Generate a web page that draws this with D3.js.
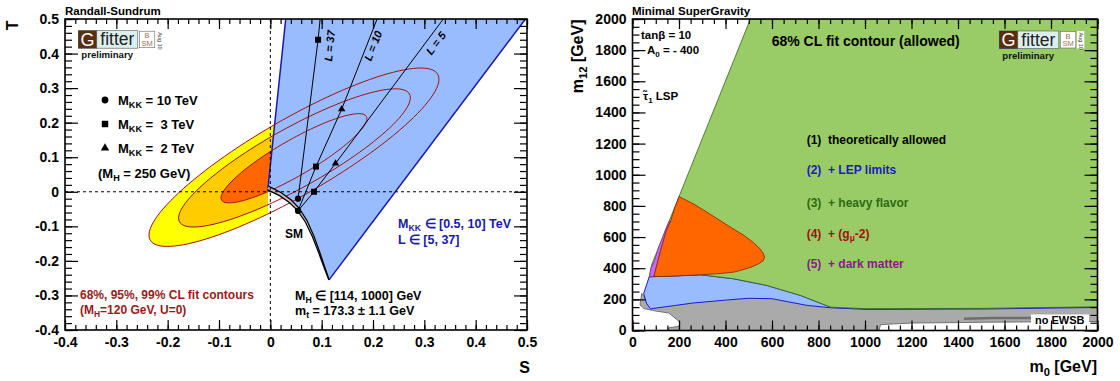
<!DOCTYPE html>
<html>
<head>
<meta charset="utf-8">
<script src="https://cdn.jsdelivr.net/npm/d3@7"></script>
<style>
  body { margin: 0; background: #fff; }
  svg text { font-family: "Liberation Sans", Arial, Helvetica, sans-serif; font-weight: bold; }
</style>
</head>
<body>
<svg id="chart" width="1120" height="381"></svg>
<script>
// ---------- left panel data (S,T plane, Randall-Sundrum) ----------
const stTicks = [-0.4, -0.3, -0.2, -0.1, 0, 0.1, 0.2, 0.3, 0.4, 0.5];
const stTickLabels = ["-0.4", "-0.3", "-0.2", "-0.1", "0", "0.1", "0.2", "0.3", "0.4", "0.5"];

// fit contours (99%, 95%, 68%): centre + two conjugate semi-axes
const contourLevels = ["99%", "95%", "68%"];
const contourFills = ["#ffff00", "#ffcc00", "#ff6600"];
const ellipseS0 = [0.046, 0.047, 0.046];
const ellipseT0 = [0.100, 0.098, 0.097];
const ellipseMajS = [0.280, 0.224, 0.141];
const ellipseMajT = [0.240, 0.185, 0.121];
const ellipseMinS = [0.037, 0.028, 0.0175];
const ellipseMinT = [-0.095, -0.076, -0.045];

// SM band (M_H from 114 to 1000 GeV)
const smS = [-0.0046, 0.0188, 0.0383, 0.0539, 0.0695, 0.0831, 0.0948, 0.1045, 0.1143];
const smT = [0.011, -0.0064, -0.0267, -0.0499, -0.0846, -0.128, -0.174, -0.215, -0.255];
// RS region top corners (at T = 0.5)
const rsTopS = [0.030, 0.497];

// lines of constant L
const lValues = [37, 10, 5];
const lLineS = [[0.054, 0.093, 0.097], [0.054, 0.089, 0.139, 0.208], [0.054, 0.085, 0.127, 0.337]];
const lLineT = [[-0.020, 0.44, 0.5], [-0.055, 0.073, 0.239, 0.5], [-0.055, 0.0, 0.082, 0.5]];
const lLabelS = [0.120, 0.196, 0.314];
const lLabelT = [0.376, 0.376, 0.394];

// M_KK markers along each line (10, 3, 2 TeV)
const mkkValues = [10, 3, 2];
const markerS = [[0.054, 0.093], [0.054, 0.089, 0.139], [0.054, 0.085, 0.127]];
const markerT = [[-0.020, 0.44], [-0.055, 0.073, 0.239], [-0.055, 0.0, 0.082]];

// ---------- right panel data (mSUGRA m0, m12) ----------
const mTicks = [0, 200, 400, 600, 800, 1000, 1200, 1400, 1600, 1800, 2000];
const mTickLabels = ["0", "200", "400", "600", "800", "1000", "1200", "1400", "1600", "1800", "2000"];

const lspEdgeM0 = [72, 82, 200, 507];
const lspEdgeM12 = [345, 420, 860, 2000];
const lepEdgeM0 = [72, 200, 292, 436, 579, 723, 852, 1000, 1500, 2000];
const lepEdgeM12 = [345, 352, 358, 332, 289, 225, 150, 140, 142, 152];
const lepLowM0 = [2000, 1500, 1000, 852, 751, 601, 500, 400, 257, 185, 77, 60, 48];
const lepLowM12 = [148, 138, 136, 146, 161, 204, 207, 195, 176, 161, 139, 175, 238];
const noEwsbM0 = [2000, 852, 600, 400, 185, 60, 40, 32, 50, 100, 156, 192, 206, 199, 156, 150, 1060, 1067, 1210, 1460, 1700, 2000];
const noEwsbM12 = [160, 160, 215, 205, 170, 200, 238, 165, 140, 125, 112, 69, 47, 27, 17, 0, 0, 38, 48, 52, 55, 58];
const streakM0 = [1425, 1550, 1720];
const streakM12 = [76, 80, 80];
const gm2M0 = [92, 108, 125, 145, 165, 180, 200, 260, 320, 364, 420, 479, 520, 548, 563, 568, 562, 545, 508, 470, 436, 380, 292, 200, 149];
const gm2M12 = [347, 440, 536, 640, 707, 780, 860, 815, 760, 718, 665, 611, 565, 525, 495, 470, 448, 430, 405, 388, 375, 366, 358, 351, 348];
const dmM0 = [72, 92, 108, 125, 145, 163, 158, 140, 113, 95, 80];
const dmM12 = [345, 347, 440, 536, 640, 700, 704, 640, 536, 450, 400];

const stepNames = ["theoretically allowed", "+ LEP limits", "+ heavy flavor", "+ (g", "+ dark matter"];
const stepColors = ["#000000", "#1a1acc", "#2d6a12", "#a01010", "#8a1a8a"];

const svg = d3.select("#chart");
const defs = svg.append("defs");

// rich text with subscripts: parts starting with "_" are subscripts
function richText(g, x, y, parts, size, fill, anchor) {
  const t = g.append("text").attr("x", x).attr("y", y)
    .attr("fill", fill || "#000").attr("text-anchor", anchor || "start")
    .style("font-size", size + "px");
  let shift = 0;
  parts.forEach(p => {
    const sub = p.startsWith("_");
    const target = sub ? size * 0.25 : 0;
    const sp = t.append("tspan").text(sub ? p.slice(1) : p).attr("dy", target - shift);
    if (sub) sp.style("font-size", (size * 0.7) + "px");
    shift = target;
  });
  return t;
}

function frameAxes(g, x, y, xMajor, xLabels, xMinor, yMajor, yLabels, yMinor) {
  const [x0, x1] = x.range(), [y0, y1] = y.range();
  const style = sel => {
    sel.select(".domain").remove();
    sel.selectAll("line").attr("stroke", "#000").attr("stroke-width", 1.2);
    sel.selectAll("text").attr("fill", "#000").style("font-size", "14px")
      .attr("font-family", null);
  };
  const none = () => "";
  g.append("g").attr("transform", `translate(0,${y0})`)
    .call(d3.axisBottom(x).tickValues(xMajor).tickSize(-10).tickSizeOuter(0).tickPadding(7).tickFormat((d, i) => xLabels[i])).call(style);
  g.append("g").attr("transform", `translate(0,${y0})`)
    .call(d3.axisBottom(x).tickValues(xMinor).tickSize(-5).tickSizeOuter(0).tickFormat(none)).call(style);
  g.append("g").attr("transform", `translate(0,${y1})`)
    .call(d3.axisTop(x).tickValues(xMajor).tickSize(-10).tickSizeOuter(0).tickFormat(none)).call(style);
  g.append("g").attr("transform", `translate(0,${y1})`)
    .call(d3.axisTop(x).tickValues(xMinor).tickSize(-5).tickSizeOuter(0).tickFormat(none)).call(style);
  g.append("g").attr("transform", `translate(${x0},0)`)
    .call(d3.axisLeft(y).tickValues(yMajor).tickSize(-13).tickSizeOuter(0).tickPadding(6).tickFormat((d, i) => yLabels[i])).call(style);
  g.append("g").attr("transform", `translate(${x0},0)`)
    .call(d3.axisLeft(y).tickValues(yMinor).tickSize(-7).tickSizeOuter(0).tickFormat(none)).call(style);
  g.append("g").attr("transform", `translate(${x1},0)`)
    .call(d3.axisRight(y).tickValues(yMajor).tickSize(-13).tickSizeOuter(0).tickFormat(none)).call(style);
  g.append("g").attr("transform", `translate(${x1},0)`)
    .call(d3.axisRight(y).tickValues(yMinor).tickSize(-7).tickSizeOuter(0).tickFormat(none)).call(style);
  g.append("rect").attr("x", x0).attr("y", y1).attr("width", x1 - x0).attr("height", y0 - y1)
    .attr("fill", "none").attr("stroke", "#000").attr("stroke-width", 1.6);
}

function logo(g, x, y) {
  const l = g.append("g").attr("transform", `translate(${x},${y})`);
  l.append("rect").attr("width", 18.5).attr("height", 17.5).attr("fill", "#5a2e0e").attr("stroke", "#333").attr("stroke-width", 0.6);
  l.append("text").attr("x", 9.3).attr("y", 15).attr("text-anchor", "middle").attr("fill", "#fff")
    .style("font-weight", "normal").style("font-size", "18px").text("G");
  l.append("rect").attr("x", 18.5).attr("width", 41).attr("height", 17.5).attr("fill", "#dcefef").attr("stroke", "#555").attr("stroke-width", 0.6);
  l.append("text").attr("x", 39).attr("y", 14.5).attr("text-anchor", "middle").attr("fill", "#222")
    .style("font-weight", "normal").style("font-size", "17.5px").text("fitter");
  l.append("rect").attr("x", 61).attr("y", 0.5).attr("width", 15.5).attr("height", 16.5).attr("fill", "#fff").attr("stroke", "#666").attr("stroke-width", 0.6);
  l.append("text").attr("x", 68.8).attr("y", 7.5).attr("text-anchor", "middle").attr("fill", "#a07050")
    .style("font-weight", "normal").style("font-size", "7.5px").text("B");
  l.append("text").attr("x", 68.8).attr("y", 15).attr("text-anchor", "middle").attr("fill", "#a07050")
    .style("font-weight", "normal").style("font-size", "7.5px").text("SM");
  l.append("rect").attr("x", 77.5).attr("y", 0).attr("width", 7.5).attr("height", 17.5).attr("fill", "#fff");
  l.append("text").attr("transform", "translate(79.2,1.5) rotate(90)").attr("fill", "#444")
    .style("font-weight", "normal").style("font-size", "5.5px").text("Aug 10");
  l.append("text").attr("x", 3).attr("y", 27.5).attr("fill", "#111").style("font-size", "9.6px").text("preliminary");
}

// =================== LEFT PANEL ===================
const xL = d3.scaleLinear().domain([-0.4, 0.5]).range([65, 527]);
const yL = d3.scaleLinear().domain([-0.4, 0.5]).range([330, 19]);
const lineL = d3.line().x(p => xL(p[0])).y(p => yL(p[1]));
const left = svg.append("g");

defs.append("clipPath").attr("id", "plotL").append("rect")
  .attr("x", xL.range()[0]).attr("y", yL.range()[1])
  .attr("width", xL.range()[1] - xL.range()[0]).attr("height", yL.range()[0] - yL.range()[1]);
defs.append("clipPath").attr("id", "fillL").append("path")
  .attr("d", lineL([[-0.4, 0.5], [rsTopS[0], 0.5], [smS[0], smT[0]], [smS[0], -0.4], [-0.4, -0.4]]) + "Z");

function ellipsePts(i) {
  return d3.range(0, 361, 3).map(a => {
    const t = a * Math.PI / 180;
    return [ellipseS0[i] + Math.cos(t) * ellipseMajS[i] + Math.sin(t) * ellipseMinS[i],
            ellipseT0[i] + Math.cos(t) * ellipseMajT[i] + Math.sin(t) * ellipseMinT[i]];
  });
}

const fills = left.append("g").attr("clip-path", "url(#fillL)");
contourLevels.forEach((lev, i) => {
  fills.append("path").attr("d", lineL(ellipsePts(i)) + "Z").attr("fill", contourFills[i]);
});

// allowed RS region
const smPts = smS.map((s, i) => [s, smT[i]]);
const rsPoly = [[rsTopS[0], 0.5], [rsTopS[1], 0.5]].concat(smPts.slice().reverse());
const plotL = left.append("g").attr("clip-path", "url(#plotL)");
plotL.append("path").attr("d", lineL(rsPoly) + "Z").attr("fill", "#99bbff");
plotL.append("path").attr("d", lineL([[rsTopS[0], 0.5], smPts[0]])).attr("stroke", "#1818b0").attr("stroke-width", 1.5).attr("fill", "none");
plotL.append("path").attr("d", lineL([[rsTopS[1], 0.5], smPts[smPts.length - 1]])).attr("stroke", "#1818b0").attr("stroke-width", 1.5).attr("fill", "none");

// contour outlines
contourLevels.forEach((lev, i) => {
  plotL.append("path").attr("d", lineL(ellipsePts(i)) + "Z").attr("fill", "none")
    .attr("stroke", "#a01010").attr("stroke-width", 1);
});

// SM band: tapering band around the SM curve, built in pixel space
function bandPath(widthAt) {
  const px = smPts.map(p => [xL(p[0]), yL(p[1])]);
  const n = px.length, upper = [], lower = [];
  px.forEach((p, i) => {
    const a = px[Math.max(i - 1, 0)], b = px[Math.min(i + 1, n - 1)];
    const dx = b[0] - a[0], dy = b[1] - a[1], len = Math.hypot(dx, dy);
    const nx = -dy / len, ny = dx / len, w = widthAt(i / (n - 1)) / 2;
    upper.push([p[0] + nx * w, p[1] + ny * w]);
    lower.push([p[0] - nx * w, p[1] - ny * w]);
  });
  return d3.line()(upper.concat(lower.reverse())) + "Z";
}
plotL.append("path").attr("d", bandPath(f => 5.2 - 3.6 * f)).attr("fill", "#000");
plotL.append("path").attr("d", bandPath(f => Math.max(2.4 - 3.0 * f, 0.01))).attr("fill", "#c4c4c4");

// lines of constant L
lValues.forEach((L, k) => {
  const pts = lLineS[k].map((s, j) => [s, lLineT[k][j]]);
  plotL.append("path").attr("d", lineL(pts)).attr("fill", "none").attr("stroke", "#000").attr("stroke-width", 1);
  const n = pts.length;
  const ang = Math.atan2(yL(pts[n - 1][1]) - yL(pts[n - 2][1]), xL(pts[n - 1][0]) - xL(pts[n - 2][0])) * 180 / Math.PI;
  left.append("text").attr("transform", `translate(${xL(lLabelS[k])},${yL(lLabelT[k])}) rotate(${ang})`)
    .style("font-size", "11px").style("font-style", "italic").text("L = " + L);
});

const symbolTypes = [d3.symbolCircle, d3.symbolSquare, d3.symbolTriangle];
const symbolSizes = [30, 36, 24];
lValues.forEach((L, k) => {
  markerS[k].forEach((s, j) => {
    plotL.append("path").attr("d", d3.symbol().type(symbolTypes[j]).size(symbolSizes[j])())
      .attr("transform", `translate(${xL(s)},${yL(markerT[k][j])})`).attr("fill", "#000");
  });
});

// dashed zero lines
left.append("line").attr("x1", xL(0)).attr("x2", xL(0)).attr("y1", yL(0.5)).attr("y2", yL(-0.4))
  .attr("stroke", "#000").attr("stroke-dasharray", "3,3").attr("stroke-width", 1);
left.append("line").attr("x1", xL(-0.4)).attr("x2", xL(0.5)).attr("y1", yL(0)).attr("y2", yL(0))
  .attr("stroke", "#000").attr("stroke-dasharray", "3,3").attr("stroke-width", 1);

frameAxes(left, xL, yL, stTicks, stTickLabels, d3.range(-0.4, 0.5001, 0.02),
  stTicks, stTickLabels, d3.range(-0.4, 0.5001, 0.02));

left.append("text").attr("x", 65).attr("y", 15).style("font-size", "11.5px").text("Randall-Sundrum");
left.append("text").attr("x", 530).attr("y", 373).attr("text-anchor", "end").style("font-size", "16px").text("S");
left.append("text").attr("transform", "translate(18,20.5) rotate(-90)").attr("text-anchor", "end").style("font-size", "16px").text("T");
logo(left, 78.3, 30.7);

// marker legend
mkkValues.forEach((m, j) => {
  const ly = 100 + j * 24;
  left.append("path").attr("d", d3.symbol().type(symbolTypes[j]).size(symbolSizes[j] + 6)())
    .attr("transform", `translate(105,${ly})`).attr("fill", "#000");
  richText(left, 118, ly + 5, ["M", "_KK", m < 10 ? " =  " + m + " TeV" : " = " + m + " TeV"], 13).style("white-space", "pre");
});
richText(left, 98, 178, ["(M", "_H", " = 250 GeV)"], 13);

left.append("text").attr("x", 285).attr("y", 237.5).style("font-size", "12px").text("SM");
richText(left, 398, 228, ["M", "_KK", " \u2208 [0.5, 10] TeV"], 12.5, "#1818b0");
richText(left, 398, 244, ["L \u2208 [5, 37]"], 12.5, "#1818b0");
richText(left, 295, 299.5, ["M", "_H", " \u2208 [114, 1000] GeV"], 12.5);
richText(left, 295, 315, ["m", "_t", " = 173.3 \u00b1 1.1 GeV"], 12.5);
richText(left, 80, 299, [contourLevels.slice().reverse().join(", ") + " CL fit contours"], 12, "#991a1a");
richText(left, 80, 313.5, ["(M", "_H", "=120 GeV, U=0)"], 12, "#991a1a");

// =================== RIGHT PANEL ===================
const xR = d3.scaleLinear().domain([0, 2000]).range([632.5, 1097.5]);
const yR = d3.scaleLinear().domain([0, 2000]).range([330.5, 19]);
const lineR = d3.line().x(p => xR(p[0])).y(p => yR(p[1]));
const zip = (a, b) => a.map((v, i) => [v, b[i]]);
const right = svg.append("g");
defs.append("clipPath").attr("id", "plotR").append("rect")
  .attr("x", xR.range()[0]).attr("y", yR.range()[1])
  .attr("width", xR.range()[1] - xR.range()[0]).attr("height", yR.range()[0] - yR.range()[1]);
const plotR = right.append("g").attr("clip-path", "url(#plotR)");

plotR.append("path").attr("d", lineR(zip(noEwsbM0, noEwsbM12)) + "Z")
  .attr("fill", "#aaaaaa").attr("stroke", "#5a5a5a").attr("stroke-width", 0.8);
plotR.append("path").attr("d", lineR(zip(streakM0, streakM12)))
  .attr("fill", "none").attr("stroke", "#6e6e6e").attr("stroke-width", 2.5);
plotR.append("path").attr("d", lineR(zip(lepEdgeM0, lepEdgeM12).concat(zip(lepLowM0, lepLowM12))) + "Z")
  .attr("fill", "#99bbff").attr("stroke", "#1a1acc").attr("stroke-width", 1);
plotR.append("path")
  .attr("d", lineR(zip(lspEdgeM0, lspEdgeM12).concat([[2000, 2000]], zip(lepEdgeM0, lepEdgeM12).reverse())) + "Z")
  .attr("fill", "#99cc66").attr("stroke", "#2d6a12").attr("stroke-width", 0.8);
plotR.append("path").attr("d", lineR(zip(dmM0, dmM12)) + "Z")
  .attr("fill", "#cc66ff").attr("stroke", "#7a1a8a").attr("stroke-width", 0.6);
plotR.append("path").attr("d", lineR(zip(gm2M0, gm2M12)) + "Z")
  .attr("fill", "#ff6600").attr("stroke", "#8a2000").attr("stroke-width", 0.8);

// "no EWSB" label with white box
right.append("rect").attr("x", 1031).attr("y", 314.5).attr("width", 58).attr("height", 11).attr("fill", "#fff");
right.append("text").attr("x", 1035).attr("y", 324).style("font-size", "11px").text("no EWSB");

frameAxes(right, xR, yR, mTicks, mTickLabels, d3.range(0, 2001, 50), mTicks, mTickLabels, d3.range(0, 2001, 50));

right.append("text").attr("x", 632).attr("y", 15).style("font-size", "11.5px").text("Minimal SuperGravity");
richText(right, 1097, 372, ["m", "_0", " [GeV]"], 16, "#000", "end");
richText(right, 0, 0, ["m", "_12", " [GeV]"], 16, "#000", "end").attr("transform", "translate(583,19.5) rotate(-90)");
richText(right, 641, 39, ["tan\u03b2 = 10"], 11.5);
richText(right, 647, 54, ["A", "_0", " = - 400"], 11.5);
richText(right, 643, 100, ["\u03c4\u0303", "_1", " LSP"], 11.5);
right.append("text").attr("x", 771.7).attr("y", 46).style("font-size", "14px").text("68% CL fit contour (allowed)");
logo(right, 999.3, 31);

const stepY = [144, 174, 207, 238, 268];
stepNames.forEach((name, i) => {
  const parts = i === 3 ? ["(" + (i + 1) + ")  " + name, "_\u03bc", "-2)"] : ["(" + (i + 1) + ")  " + name];
  richText(right, 806.7, stepY[i], parts, 12, stepColors[i]).style("white-space", "pre");
});
</script>
</body>
</html>
